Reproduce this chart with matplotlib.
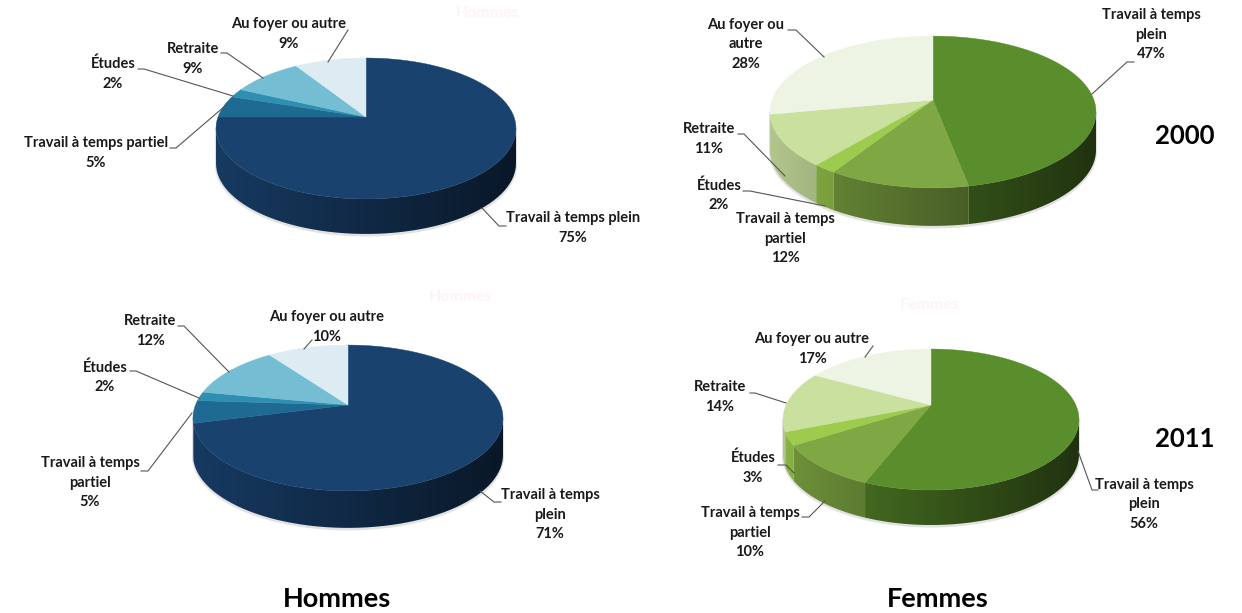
import numpy as np
import matplotlib
matplotlib.use("Agg")
import matplotlib.pyplot as plt
from matplotlib.colors import to_rgb
from matplotlib.patches import Polygon

plt.rcParams['font.family'] = ['Lato', 'DejaVu Sans']

# clockwise from the top of each pie
values_h2000 = [75, 5, 2, 9, 9]
values_f2000 = [47, 12, 2, 11, 28]
values_h2011 = [71, 5, 2, 12, 10]
values_f2011 = [56, 10, 3, 14, 17]

blues = ["#1a426f", "#1f6a93", "#2f8fb0", "#74bdd3", "#dcecf2"]
greens = ["#5a8d2b", "#7fa743", "#9ccb4e", "#c9e09f", "#eef4e4"]

names_h2000 = ["Travail à temps plein", "Travail à temps partiel", "Études", "Retraite", "Au foyer ou autre"]
names_f2000 = ["Travail à temps\nplein", "Travail à temps\npartiel", "Études", "Retraite", "Au foyer ou\nautre"]
names_h2011 = ["Travail à temps\nplein", "Travail à temps\npartiel", "Études", "Retraite", "Au foyer ou autre"]
names_f2011 = ["Travail à temps\nplein", "Travail à temps\npartiel", "Études", "Retraite", "Au foyer ou autre"]

# label centres, pixels of the figure
pos_h2000 = [(573, 228), (96, 153), (113, 74), (193, 59), (289, 34)]
pos_f2000 = [(1151, 35), (785, 239), (719, 195), (709, 139), (746, 44)]
pos_h2011 = [(550, 515), (90, 483), (105, 377), (150, 331), (327, 327)]
pos_f2011 = [(1144, 504), (750, 533), (753, 468), (720, 397), (812, 349)]

leaders_h2000 = [[(482, 208), (499, 226), (506, 226)],
                 [(170, 148), (176, 148), (225, 106)],
                 [(138, 69), (144, 69), (233, 96)],
                 [(221, 53), (227, 53), (263, 78)],
                 [(348, 30), (328, 62)]]
leaders_f2000 = [[(1134, 62), (1127, 62), (1092, 94)],
                 [(743, 191), (750, 191), (825, 206)],
                 [(738, 134), (744, 134), (785, 176)],
                 [(788, 30), (796, 30), (824, 57)]]
leaders_h2011 = [[(480, 491), (494, 502), (501, 502)],
                 [(141, 471), (148, 471), (192, 413)],
                 [(130, 371), (136, 371), (199, 398)],
                 [(178, 326), (184, 326), (229, 372)],
                 [(312, 340), (304, 349)]]
leaders_f2011 = [[(1078, 451), (1092, 490), (1098, 490)],
                 [(802, 517), (809, 517), (825, 501)],
                 [(778, 465), (786, 465), (794, 473)],
                 [(750, 393), (755, 393), (786, 403)],
                 [(873, 346), (865, 357)]]


def project(theta, cx, cy, rx, h, k):
    # perspective view of a flat disc, theta in degrees clockwise from the top
    t = np.radians(theta)
    u, v = np.sin(t), np.cos(t)
    w = 1 + k * v
    return cx + rx * np.sqrt(1 - k * k) * u / w, cy - h * v / w


def draw_pie(ax, values, colors, cx, cy, rx, h, k, depth):
    edges = np.concatenate([[0], np.cumsum(values)]) * 3.6
    left, width = cx - rx, 2 * rx
    # the wall only shows between the two points where the outline turns
    sil = np.degrees(np.arccos(-k))

    # soft edge below the wall
    th = np.linspace(sil, 360 - sil, 120)
    x, y = project(th, cx, cy, rx, h, k)
    ax.fill(np.r_[x, x[::-1]], np.r_[y, y[::-1] + depth + 1.5], color="#e2e2e2", lw=1.5, zorder=1)

    # wall, darker to the right
    ramp = np.linspace(0, 1, 200)
    for i, col in enumerate(colors):
        a, b = max(edges[i], sil), min(edges[i + 1], 360 - sil)
        if a >= b:
            continue
        th = np.linspace(a, b, 60)
        x, y = project(th, cx, cy, rx, h, k)
        shade = np.outer(0.88 - 0.52 * ramp, to_rgb(col))[np.newaxis, :, :]
        im = ax.imshow(shade, extent=(left, left + width, cy + 200, cy - 200), aspect="auto",
                       interpolation="bilinear", zorder=2)
        im.set_clip_path(Polygon(np.c_[np.r_[x, x[::-1]], np.r_[y, y[::-1] + depth]], transform=ax.transData))

    # top of the pie
    for i, col in enumerate(colors):
        th = np.linspace(edges[i], edges[i + 1], 90)
        x, y = project(th, cx, cy, rx, h, k)
        ax.fill(np.r_[cx, x], np.r_[cy, y], color=col, lw=0.3, zorder=3)


def draw_labels(ax, names, values, pos, leaders):
    for name, val, (x, y) in zip(names, values, pos):
        ax.text(x, y, f"{name}\n{val}%", ha="center", va="center", fontsize=10.5,
                fontweight="bold", color="#1a1a1a", linespacing=1.5, zorder=5)
    for line in leaders:
        xs, ys = zip(*line)
        ax.plot(xs, ys, color="#555555", lw=0.8, zorder=4)


fig = plt.figure(figsize=(12.42, 6.13), dpi=100)
ax = fig.add_axes([0, 0, 1, 1])

draw_pie(ax, values_h2000, blues, 366, 117, 150, 68.6, 0.163, 35)
draw_pie(ax, values_f2000, greens, 933, 100, 163, 74, 0.158, 38)
draw_pie(ax, values_h2011, blues, 348, 405, 155, 70.6, 0.178, 37)
draw_pie(ax, values_f2011, greens, 931, 405, 148, 67.5, 0.206, 35)

draw_labels(ax, names_h2000, values_h2000, pos_h2000, leaders_h2000)
draw_labels(ax, names_f2000, values_f2000, pos_f2000, leaders_f2000)
draw_labels(ax, names_h2011, values_h2011, pos_h2011, leaders_h2011)
draw_labels(ax, names_f2011, values_f2011, pos_f2011, leaders_f2011)

for txt, x, y in [("Hommes", 337, 599), ("Femmes", 938, 599)]:
    ax.text(x, y, txt, ha="center", va="center", fontsize=19.5, fontweight="bold", color="black")
for txt, x, y in [("2000", 1185, 136), ("2011", 1185, 439)]:
    ax.text(x, y, txt, ha="center", va="center", fontsize=18.5, fontweight="bold", color="black")

# the nearly invisible titles left in the source image
for txt, x, y in [("Hommes", 488, 13), ("Hommes", 461, 297), ("Femmes", 930, 305)]:
    ax.text(x, y, txt, ha="center", va="center", fontsize=11.5, fontweight="bold", color="#fdf3fb")

# imshow changes the limits, so set them last
ax.set_xlim(0, 1242)
ax.set_ylim(613, 0)
ax.axis("off")

fig.savefig("out.png", dpi=100)
